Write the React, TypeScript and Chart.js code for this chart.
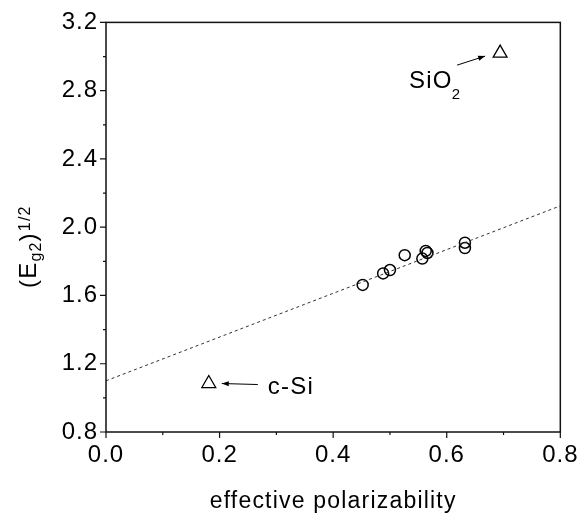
import React, { useEffect, useRef } from 'react';
import { Chart, registerables } from 'chart.js';

Chart.register(...registerables);

const FONT = "'Liberation Sans', Arial, Helvetica, sans-serif";

const xTicks = [0, 0.2, 0.4, 0.6, 0.8];
const yTicks = [0.8, 1.2, 1.6, 2.0, 2.4, 2.8, 3.2];
const xMinorTicks = [0.1, 0.3, 0.5, 0.7];
const yMinorTicks = [1.0, 1.4, 1.8, 2.2, 2.6, 3.0];

const circleX = [0.452, 0.488, 0.5, 0.526, 0.557, 0.563, 0.566, 0.632, 0.632];
const circleY = [1.662, 1.729, 1.749, 1.836, 1.816, 1.861, 1.849, 1.909, 1.878];

const triangleX = [0.181, 0.694];
const triangleY = [1.084, 3.02];
const triangleLabels = ['c-Si', 'SiO'];

const fitX = [0, 0.8];
const fitY = [1.1, 2.125];

const xTitle = 'effective polarizability';

function arrow(ctx: CanvasRenderingContext2D, x1: number, y1: number, x2: number, y2: number) {
  ctx.beginPath();
  ctx.moveTo(x1, y1);
  ctx.lineTo(x2, y2);
  ctx.stroke();
  const ang = Math.atan2(y2 - y1, x2 - x1);
  const L = 7, W = 2.6;
  ctx.beginPath();
  ctx.moveTo(x2, y2);
  ctx.lineTo(x2 - L * Math.cos(ang) + W * Math.sin(ang), y2 - L * Math.sin(ang) - W * Math.cos(ang));
  ctx.lineTo(x2 - L * Math.cos(ang) - W * Math.sin(ang), y2 - L * Math.sin(ang) + W * Math.cos(ang));
  ctx.closePath();
  ctx.fill();
}

const decor = {
  id: 'decor',
  beforeDraw(chart: any) {
    (chart.ctx as any).letterSpacing = '1px';
  },
  afterDraw(chart: any) {
    const ctx: CanvasRenderingContext2D = chart.ctx;
    const a = chart.chartArea;
    const xs = chart.scales.x;
    const ys = chart.scales.y;
    ctx.save();
    ctx.strokeStyle = '#111';
    ctx.fillStyle = '#000';
    ctx.lineWidth = 1.5;
    ctx.strokeRect(a.left, a.top, a.right - a.left, a.bottom - a.top);

    ctx.lineWidth = 1.2;
    ctx.beginPath();
    xTicks.forEach((t) => {
      const px = xs.getPixelForValue(t);
      ctx.moveTo(px, a.bottom);
      ctx.lineTo(px, a.bottom + 6);
    });
    xMinorTicks.forEach((t) => {
      const px = xs.getPixelForValue(t);
      ctx.moveTo(px, a.bottom);
      ctx.lineTo(px, a.bottom + 3);
    });
    yTicks.forEach((t) => {
      const py = ys.getPixelForValue(t);
      ctx.moveTo(a.left, py);
      ctx.lineTo(a.left - 6, py);
    });
    yMinorTicks.forEach((t) => {
      const py = ys.getPixelForValue(t);
      ctx.moveTo(a.left, py);
      ctx.lineTo(a.left - 3, py);
    });
    ctx.stroke();

    // x title
    (ctx as any).letterSpacing = '1.2px';
    ctx.font = `23px ${FONT}`;
    ctx.textAlign = 'center';
    ctx.textBaseline = 'alphabetic';
    ctx.fillText(xTitle, (a.left + a.right) / 2, 508);

    // y title: (E_g2)^1/2
    ctx.save();
    ctx.translate(36, 288);
    ctx.rotate(-Math.PI / 2);
    ctx.textAlign = 'left';
    let cx = 0;
    ctx.font = `24px ${FONT}`;
    ctx.fillText('(', cx, 0);
    cx += ctx.measureText('(').width;
    ctx.fillText('E', cx, 0);
    cx += ctx.measureText('E').width;
    ctx.font = `16px ${FONT}`;
    ctx.fillText('g2', cx, 5);
    cx += ctx.measureText('g2').width;
    ctx.font = `24px ${FONT}`;
    ctx.fillText(')', cx, 0);
    cx += ctx.measureText(')').width + 1;
    ctx.font = `16px ${FONT}`;
    ctx.fillText('1/2', cx, -6);
    ctx.restore();

    // annotations
    ctx.lineWidth = 1;
    ctx.strokeStyle = '#000';
    const sx = xs.getPixelForValue(triangleX[1]);
    const sy = ys.getPixelForValue(triangleY[1]);
    arrow(ctx, sx - 43, sy + 12, sx - 15, sy + 3);
    ctx.textAlign = 'left';
    ctx.font = `24px ${FONT}`;
    ctx.fillText(triangleLabels[1], sx - 91, sy + 35);
    const w = ctx.measureText(triangleLabels[1]).width;
    ctx.font = `15px ${FONT}`;
    ctx.fillText('2', sx - 91 + w - 1, sy + 46);

    const cxp = xs.getPixelForValue(triangleX[0]);
    const cyp = ys.getPixelForValue(triangleY[0]);
    arrow(ctx, cxp + 49, cyp + 1, cxp + 13, cyp);
    ctx.font = `24px ${FONT}`;
    ctx.fillText(triangleLabels[0], cxp + 59, cyp + 10);

    ctx.restore();
    (ctx as any).letterSpacing = '0px';
  },
};

export default function App() {
  const ref = useRef<HTMLCanvasElement | null>(null);
  useEffect(() => {
    document.body.style.margin = '0';
    const canvas = ref.current!;
    const chart = new Chart(canvas, {
      type: 'scatter',
      data: {
        datasets: [
          {
            label: 'fit',
            data: fitX.map((x, i) => ({ x, y: fitY[i] })),
            showLine: true,
            borderColor: '#333',
            borderWidth: 1,
            borderDash: [3, 3],
            pointRadius: 0,
            fill: false,
          },
          {
            label: 'samples',
            data: circleX.map((x, i) => ({ x, y: circleY[i] })),
            pointStyle: 'circle',
            pointRadius: 5.5,
            pointBorderWidth: 1.5,
            borderColor: '#000',
            backgroundColor: 'rgba(0,0,0,0)',
            pointBackgroundColor: 'rgba(0,0,0,0)',
            pointBorderColor: '#000',
          },
          {
            label: 'references',
            data: triangleX.map((x, i) => ({ x, y: triangleY[i] })),
            pointStyle: 'triangle',
            pointRadius: 8,
            pointBorderWidth: 1.3,
            borderColor: '#000',
            backgroundColor: 'rgba(0,0,0,0)',
            pointBackgroundColor: 'rgba(0,0,0,0)',
            pointBorderColor: '#000',
          },
        ],
      },
      options: {
        animation: false,
        responsive: false,
        maintainAspectRatio: false,
        layout: { padding: { left: 0, right: 20, top: 18, bottom: 0 } },
        plugins: { legend: { display: false }, tooltip: { enabled: false } },
        scales: {
          x: {
            type: 'linear',
            min: 0,
            max: 0.8,
            grid: { display: false, drawTicks: false },
            border: { display: false },
            ticks: {
              stepSize: 0.2,
              autoSkip: false,
              maxRotation: 0,
              padding: 9,
              color: '#000',
              font: { family: FONT, size: 24 },
              callback: (v: any) => Number(v).toFixed(1),
            },
            afterFit: (s: any) => { s.height = 82; },
          },
          y: {
            type: 'linear',
            min: 0.8,
            max: 3.2,
            grid: { display: false, drawTicks: false },
            border: { display: false },
            ticks: {
              stepSize: 0.4,
              autoSkip: false,
              padding: 8,
              color: '#000',
              font: { family: FONT, size: 24 },
              callback: (v: any) => Number(v).toFixed(1),
            },
            afterFit: (s: any) => { s.width = 106; },
          },
        },
      },
      plugins: [decor],
    });
    return () => chart.destroy();
  }, []);
  return (
    <div style={{ width: 586, height: 514 }}>
      <canvas ref={ref} width={586} height={514} style={{ display: 'block' }} />
    </div>
  );
}
